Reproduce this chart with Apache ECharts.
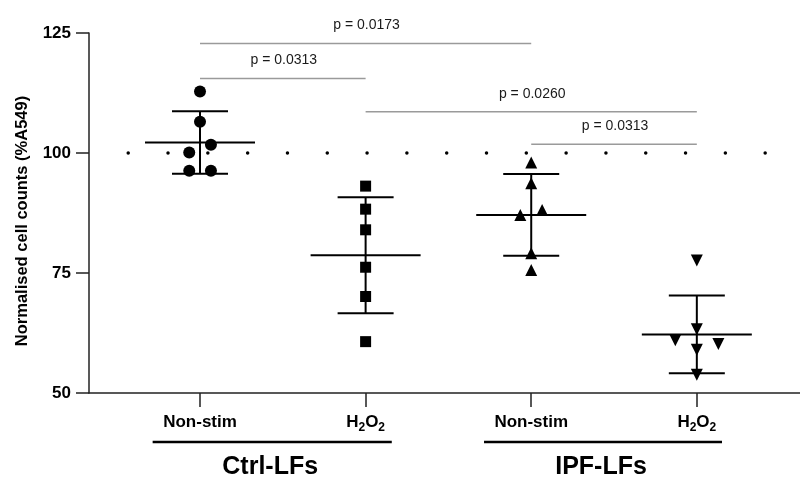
<!DOCTYPE html>
<html><head><meta charset="utf-8">
<script src="https://cdn.jsdelivr.net/npm/echarts@6/dist/echarts.min.js"></script>
<style>html,body{margin:0;padding:0;background:#fff}#c{width:800px;height:477px}</style>
</head><body><div id="c"></div>
<script>
// ---- data ----
const categories = ['Non-stim', 'H2O2', 'Non-stim', 'H2O2'];
const groupNames = ['Ctrl-LFs', 'IPF-LFs'];
const yTicks = [50, 75, 100, 125];
const ctrlNonStim = [112.8, 106.5, 101.7, 100.1, 96.3, 96.3];
const ctrlH2O2 = [93.1, 88.3, 84.0, 76.2, 70.1, 60.7];
const ipfNonStim = [98.0, 93.7, 87.1, 88.1, 79.1, 75.6];
const ipfH2O2 = [77.6, 63.3, 61.0, 59.0, 60.2, 53.8];
const means = [102.2, 78.7, 87.1, 62.2];
const sds = [6.5, 12.1, 8.5, 8.1];
const pLabels = ['p = 0.0173', 'p = 0.0313', 'p = 0.0260', 'p = 0.0313'];
const pPairs = [[1, 3], [1, 2], [2, 4], [3, 4]];
const pLevels = [122.8, 115.5, 108.6, 101.8];
const refValue = 100;

// ---- layout helpers (positions, not data) ----
const jitter = [
  [0, 0, 0.066, -0.065, -0.065, 0.066],
  [0, 0, 0, 0, 0, 0],
  [0, 0, -0.066, 0.066, 0, 0],
  [0, 0, -0.13, 0, 0.13, 0]
];
const groupSpans = [[0.714, 2.158], [2.715, 4.152]];
const FONT = 'Arial, "Liberation Sans", Helvetica, sans-serif';

const allSeries = [ctrlNonStim, ctrlH2O2, ipfNonStim, ipfH2O2];
const symbols = ['circle', 'rect', 'triangle', 'triangle'];
const rotates = [0, 0, 0, 180];

function fmtCat(s) {
  return s.replace(/(\d)/g, '{sub|$1}').replace(/^([^{]+)/, '{a|$1}').replace(/\}([A-Za-z]+)\{/g, '}{a|$1}{');
}

const chart = echarts.init(document.getElementById('c'), null, {renderer: 'canvas'});

const series = [];

// error bars (mean ± SD)
series.push({
  type: 'custom',
  silent: true,
  z: 2,
  data: means.map((m, i) => [i + 1, m, sds[i]]),
  renderItem: (params, api) => {
    const x = api.value(0), m = api.value(1), s = api.value(2);
    const c = api.coord([x, m]);
    const t = api.coord([x, m + s]);
    const b = api.coord([x, m - s]);
    const st = {stroke: '#000', lineWidth: 2};
    return {type: 'group', children: [
      {type: 'line', shape: {x1: c[0] - 55, y1: c[1], x2: c[0] + 55, y2: c[1]}, style: st},
      {type: 'line', shape: {x1: t[0], y1: t[1], x2: b[0], y2: b[1]}, style: st},
      {type: 'line', shape: {x1: t[0] - 28, y1: t[1], x2: t[0] + 28, y2: t[1]}, style: st},
      {type: 'line', shape: {x1: b[0] - 28, y1: b[1], x2: b[0] + 28, y2: b[1]}, style: st}
    ]};
  }
});

// scatter points
allSeries.forEach((vals, i) => {
  const s = {
    type: 'scatter',
    z: 3,
    symbol: symbols[i],
    symbolRotate: rotates[i],
    symbolSize: i === 1 ? 11 : 12,
    itemStyle: {color: '#000', opacity: 1},
    data: vals.map((v, j) => [i + 1 + jitter[i][j], v])
  };
  if (i === 0) {
    s.markLine = {
      silent: true,
      symbol: 'none',
      label: {show: false},
      lineStyle: {color: '#000', width: 3.5, type: [0.01, 39.8], dashOffset: 0.6, cap: 'round', opacity: 1},
      data: [{yAxis: refValue}]
    };
  }
  series.push(s);
});

// p-value brackets
series.push({
  type: 'custom',
  silent: true,
  clip: false,
  z: 1,
  data: pPairs.map((p, i) => [p[0], p[1], pLevels[i], i]),
  renderItem: (params, api) => {
    const a = api.coord([api.value(0), api.value(2)]);
    const b = api.coord([api.value(1), api.value(2)]);
    const idx = api.value(3);
    return {type: 'group', children: [
      {type: 'line', shape: {x1: a[0], y1: a[1], x2: b[0], y2: b[1]}, style: {stroke: '#9a9a9a', lineWidth: 1.5}},
      {type: 'text', x: (a[0] + b[0]) / 2 + 1, y: a[1] - 18, style: {text: pLabels[idx], fill: '#1a1a1a', font: '14px ' + FONT, align: 'center', verticalAlign: 'middle'}}
    ]};
  }
});

// group annotations
series.push({
  type: 'custom',
  silent: true,
  clip: false,
  z: 1,
  data: groupSpans.map((g, i) => [g[0], g[1], i]),
  renderItem: (params, api) => {
    const a = api.coord([api.value(0), 50]);
    const b = api.coord([api.value(1), 50]);
    const idx = api.value(2);
    const yl = a[1] + 49, yt = a[1] + 74;
    return {type: 'group', children: [
      {type: 'line', shape: {x1: a[0], y1: yl, x2: b[0], y2: yl}, style: {stroke: '#000', lineWidth: 2.5}},
      {type: 'text', x: (a[0] + b[0]) / 2 - 2, y: yt, style: {text: groupNames[idx], fill: '#000', font: 'bold 25px ' + FONT, align: 'center', verticalAlign: 'middle'}}
    ]};
  }
});

chart.setOption({
  animation: false,
  backgroundColor: '#fff',
  grid: {left: 89, right: 0, top: 33, bottom: 84, containLabel: false},
  xAxis: {
    type: 'value',
    min: 0.3297,
    max: 4.623,
    splitLine: {show: false},
    axisLine: {show: true, lineStyle: {color: '#222', width: 1.5}},
    axisTick: {show: true, length: 14, lineStyle: {color: '#222', width: 1.5}, customValues: [1, 2, 3, 4]},
    axisLabel: {
      show: true,
      customValues: [1, 2, 3, 4],
      margin: 21,
      formatter: (v) => fmtCat(categories[Math.round(v) - 1]),
      rich: {
        a: {fontFamily: FONT, fontSize: 17, fontWeight: 'bold', color: '#000', lineHeight: 17, verticalAlign: 'top'},
        sub: {fontFamily: FONT, fontSize: 12, fontWeight: 'bold', color: '#000', lineHeight: 12, padding: [8, 0, 0, 0], verticalAlign: 'top'}
      }
    }
  },
  yAxis: {
    type: 'value',
    min: 50,
    max: 125,
    interval: 25,
    name: 'Normalised cell counts (%A549)',
    nameLocation: 'middle',
    nameGap: 58,
    nameTextStyle: {fontFamily: FONT, fontSize: 16.5, fontWeight: 'bold', color: '#000', padding: [0, 16, 0, 0]},
    splitLine: {show: false},
    axisLine: {show: true, lineStyle: {color: '#222', width: 1.5}},
    axisTick: {show: true, length: 13, lineStyle: {color: '#222', width: 1.5}},
    axisLabel: {
      margin: 18,
      fontFamily: FONT, fontSize: 17, fontWeight: 'bold', color: '#000',
      formatter: (v) => yTicks.includes(v) ? String(v) : ''
    }
  },
  series: series
});
</script>
</body></html>
